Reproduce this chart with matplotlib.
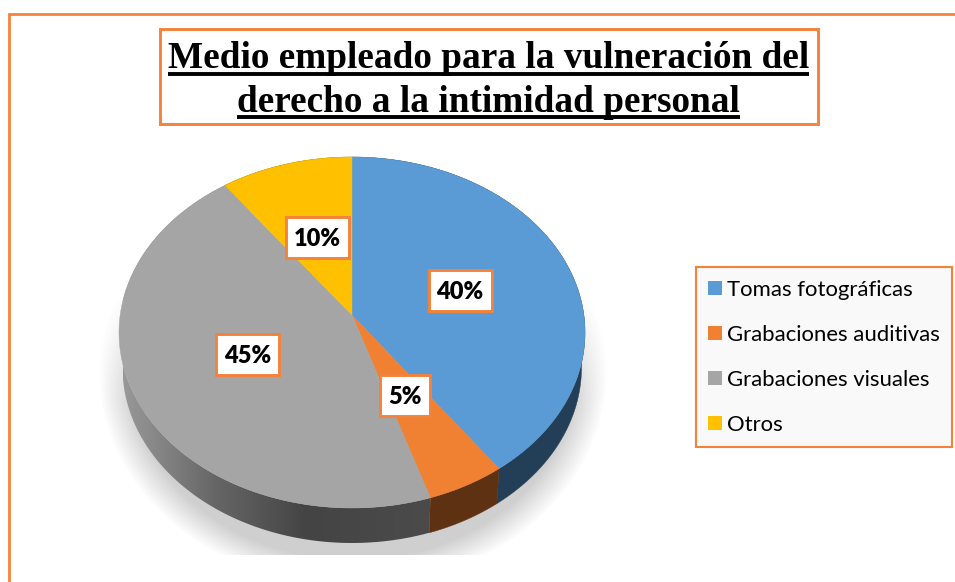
import numpy as np
import matplotlib
matplotlib.use("Agg")
import matplotlib.pyplot as plt
from matplotlib.patches import Patch, Polygon, Rectangle
from matplotlib.colors import LinearSegmentedColormap

# ── Data ──────────────────────────────────────────────────────────────────────
categories = ["Tomas fotográficas", "Grabaciones auditivas", "Grabaciones visuales", "Otros"]
values     = [40, 5, 45, 10]
title_lines = ["Medio empleado para la vulneración del", "derecho a la intimidad personal"]

# ── Style ─────────────────────────────────────────────────────────────────────
ORANGE      = "#f4823a"
TOP_COLORS  = ["#5b9bd5", "#f08032", "#a5a5a5", "#ffc000"]
SIDE_COLORS = ["#233f57", "#5f3113", "#4a4a4a", "#7f6000"]
LABEL_NUDGE = [(5, 0), (-2, -1), (-1, -1), (-3, -5)]   # px, label placement tweaks

CX, CY, RX, RY = 352, 332.5, 233, 175.5   # top face, in pixels
APEX_Y   = 315                            # perspective moves the centre up
DEPTH    = 35
BOTTOM_SCALE = 0.985
RIM_SHIFT = 0.045


def rim(t_deg, cy=CY, scale=1.0):
    """Rim point for an angle measured clockwise from the top of the pie."""
    t = np.radians(t_deg)
    z = np.sin(t) + 1j * np.cos(t)
    a = 1j * RIM_SHIFT
    w = (z + a) / (1 + np.conj(a) * z)
    return CX + RX * scale * w.real, cy - RY * w.imag


fig = plt.figure(figsize=(9.55, 5.82), dpi=100)
ax = fig.add_axes([0, 0, 1, 1])
ax.set_xlim(0, 955)
ax.set_ylim(582, 0)
ax.axis("off")

# Outer frame (open on the right and at the bottom)
ax.plot([8.5, 8.5, 955], [582, 13.5, 13.5], color=ORANGE, lw=2.0, solid_joinstyle="miter")

# ── Title ─────────────────────────────────────────────────────────────────────
ax.add_patch(Rectangle((159.5, 29), 658.5, 95, fc="white", ec=ORANGE, lw=2.1))
renderer = fig.canvas.get_renderer()
for line, y_text, y_line in zip(title_lines, [68.5, 112.5], [74, 117]):
    t = ax.text(488.5, y_text, line, family="Liberation Serif", weight="bold", fontsize=26.8,
                ha="center", va="baseline", color="black")
    bb = t.get_window_extent(renderer).transformed(ax.transData.inverted())
    ax.plot([bb.x0, bb.x1], [y_line, y_line], color="black", lw=2.8, solid_capstyle="butt")

# ── Soft shadow under the pie ─────────────────────────────────────────────────
xx, yy = np.meshgrid(np.arange(90, 620), np.arange(260, 555))
dist = np.hypot((xx - CX) / 254, (yy - 372) / 215)
fade = np.clip((1.0 - dist) / 0.13, 0, 1)
fade = fade * np.clip((yy - 270) / 130, 0, 1)
shadow = np.zeros(xx.shape + (4,))
shadow[..., :3] = 0.25
shadow[..., 3] = 0.25 * fade
ax.imshow(shadow, extent=(90, 620, 555, 260), zorder=1, aspect="auto", interpolation="bilinear")
ax.set_xlim(0, 955)
ax.set_ylim(582, 0)

# ── Pie ───────────────────────────────────────────────────────────────────────
edges = 360 * np.cumsum([0] + values) / sum(values)

for i, value in enumerate(values):
    t = np.linspace(edges[i], edges[i + 1], 120)
    tx, ty = rim(t)
    bx, by = rim(t, cy=CY + DEPTH, scale=BOTTOM_SCALE)
    side = np.column_stack([np.r_[tx, bx[::-1]], np.r_[ty, by[::-1]]])
    if categories[i] == "Grabaciones visuales":
        # the grey wall catches light on the left
        cmap = LinearSegmentedColormap.from_list(
            "wall", [(0, "#989898"), (0.12, "#858585"), (0.3, "#666666"),
                     (0.6, "#444444"), (1, "#4b4b4b")])
        clip = Polygon(side, closed=True, fc="none", ec="none", transform=ax.transData)
        ax.add_patch(clip)
        im = ax.imshow(np.linspace(0, 1, 256)[None, :], cmap=cmap, vmin=0, vmax=1,
                       extent=(bx.min(), bx.max(), by.max(), ty.min()), aspect="auto", zorder=2)
        im.set_clip_path(clip)
        ax.set_xlim(0, 955)
        ax.set_ylim(582, 0)
    else:
        ax.add_patch(Polygon(side, closed=True, fc=SIDE_COLORS[i], ec=SIDE_COLORS[i], lw=0.3, zorder=2))

for i, value in enumerate(values):
    t = np.linspace(edges[i], edges[i + 1], 120)
    tx, ty = rim(t)
    top = np.column_stack([np.r_[CX, tx], np.r_[APEX_Y, ty]])
    ax.add_patch(Polygon(top, closed=True, fc=TOP_COLORS[i], ec=TOP_COLORS[i], lw=0.3, zorder=3))

# Data labels sit a fixed fraction of the way from the apex to the rim
for i, value in enumerate(values):
    mx, my = rim((edges[i] + edges[i + 1]) / 2)
    lx = CX + 0.48 * (mx - CX) + LABEL_NUDGE[i][0]
    ly = APEX_Y + 0.48 * (my - APEX_Y) + LABEL_NUDGE[i][1]
    t = ax.text(lx, ly + 1.5, f"{value}%", family="Lato", weight="heavy", fontsize=17, color="black",
                ha="center", va="center", zorder=5)
    bb = t.get_window_extent(renderer).transformed(ax.transData.inverted())
    ax.add_patch(Rectangle((bb.x0 - 8, ly - 20.5), bb.width + 16, 41, fc="white", ec=ORANGE,
                           lw=2.1, zorder=4))

# ── Legend ────────────────────────────────────────────────────────────────────
handles = [Patch(fc=c, ec="none") for c in TOP_COLORS]
leg = ax.legend(handles, categories, loc="upper left", bbox_to_anchor=(695.5, 267),
                bbox_transform=ax.transData, prop=dict(family="Lato", size=15.9),
                handlelength=0.63, handleheight=0.63, handletextpad=0.2, labelspacing=1.13,
                borderpad=0.58, borderaxespad=0, fancybox=False, facecolor="#f9f9f9",
                edgecolor=ORANGE, framealpha=1)
leg.get_frame().set_linewidth(1.5)
leg.set_zorder(6)

fig.savefig("out.png", dpi=100)
